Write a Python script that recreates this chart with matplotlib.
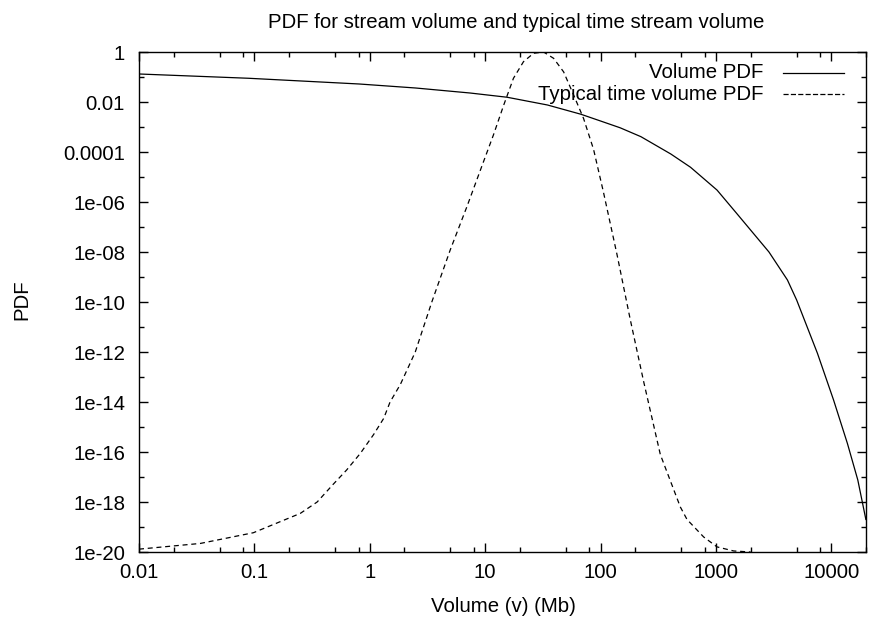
import matplotlib
matplotlib.use("Agg")
import matplotlib.pyplot as plt
from matplotlib.ticker import FixedLocator, FixedFormatter, NullFormatter

plt.rcParams['font.family'] = ['Liberation Sans', 'DejaVu Sans']
plt.rcParams['lines.scale_dashes'] = False

# ---- data ----
vol_x = [0.01, 0.089, 0.81, 2.5, 7.4, 15.5, 34.7, 67.6, 100, 148, 224, 407, 603,
         1023, 1514, 2884, 4169, 5012, 7586, 10470, 13800, 16980, 19950]
vol_y = [0.132, 0.089, 0.0525, 0.0363, 0.0229, 0.0155, 0.00759, 0.00324, 0.00174,
         9.3e-4, 4.1e-4, 8.3e-5, 2.45e-5, 3.0e-6, 3.5e-7, 1.0e-8, 7.6e-10, 1.2e-10,
         8.9e-13, 1.2e-14, 2.2e-16, 7.6e-18, 2.0e-19]

typ_x = [0.01, 0.034, 0.098, 0.25, 0.35, 0.48, 0.63, 0.83, 1.08, 1.32, 1.5, 1.84,
         2.17, 2.48, 3.45, 4.98, 6.95, 9.68, 11.8, 14.5, 17.6, 21.5, 26.3, 32.1,
         39.2, 47.9, 58.5, 71.3, 87.1, 106, 139, 181, 237, 330, 492, 562, 783,
         1023, 1426, 2000]
typ_y = [1.3e-20, 2.2e-20, 5.9e-20, 3.5e-19, 1.0e-18, 5.0e-18, 1.9e-17, 8.9e-17,
         5.0e-16, 2.2e-15, 1.0e-14, 5.0e-14, 2.6e-13, 1.0e-12, 1.0e-10, 1.2e-8,
         6.5e-7, 4.1e-5, 4.8e-4, 7.6e-3, 0.089, 0.41, 0.89, 1.0, 0.56, 0.16,
         0.019, 2.2e-3, 1.26e-4, 2.5e-6, 7.9e-9, 2.0e-11, 6.3e-14, 7.9e-17,
         6.3e-19, 2.0e-19, 4.0e-20, 1.6e-20, 1.1e-20, 1.0e-20]

x_ticks = [0.01, 0.1, 1, 10, 100, 1000, 10000]
x_tick_labels = ["0.01", "0.1", "1", "10", "100", "1000", "10000"]
y_ticks = [1, 1e-2, 1e-4, 1e-6, 1e-8, 1e-10, 1e-12, 1e-14, 1e-16, 1e-18, 1e-20]
y_tick_labels = ["1", "0.01", "0.0001", "1e-06", "1e-08", "1e-10", "1e-12",
                 "1e-14", "1e-16", "1e-18", "1e-20"]

labels = ["Volume PDF", "Typical time volume PDF"]
title = "PDF for stream volume and typical time stream volume"
xlabel = "Volume (v) (Mb)"
ylabel = "PDF"

# ---- figure ----
W, H = 870, 622
fig = plt.figure(figsize=(W / 100, H / 100), dpi=100)
L, R, T, B = 139, 866, 52, 552
ax = fig.add_axes([L / W, 1 - B / H, (R - L) / W, (B - T) / H])
ax.set_xscale('log')
ax.set_yscale('log')
ax.set_xlim(0.01, 20000)
ax.set_ylim(1e-20, 1)

ln1, = ax.plot(vol_x, vol_y, color='black', lw=0.9, solid_joinstyle='round')
ln2, = ax.plot(typ_x, typ_y, color='black', lw=0.9, linestyle=(0, (3.6, 2.7)))

fs = 14.7
# x ticks
ax.xaxis.set_major_locator(FixedLocator(x_ticks))
ax.xaxis.set_major_formatter(FixedFormatter(x_tick_labels))
xminor = [m * d for d in [0.01, 0.1, 1, 10, 100, 1000, 10000] for m in (2, 5, 8)]
ax.xaxis.set_minor_locator(FixedLocator([v for v in xminor if v <= 20000]))
ax.xaxis.set_minor_formatter(NullFormatter())
# y ticks
ax.yaxis.set_major_locator(FixedLocator(y_ticks))
ax.yaxis.set_major_formatter(FixedFormatter(y_tick_labels))
ax.yaxis.set_minor_locator(FixedLocator([10.0 ** (-k) for k in range(1, 20, 2)]))
ax.yaxis.set_minor_formatter(NullFormatter())

ax.tick_params(which='both', direction='in', top=True, right=True, width=1.0,
               labelsize=fs, colors='black')
ax.tick_params(which='major', length=6.5)
ax.tick_params(which='minor', length=3.5)
ax.tick_params(axis='x', which='major', pad=8)
ax.tick_params(axis='y', which='major', pad=10)
for s in ax.spines.values():
    s.set_linewidth(1.0)

# labels
fig.text(516 / W, 1 - 22 / H, title, ha='center', va='center', fontsize=fs)
fig.text(503 / W, 1 - 606 / H, xlabel, ha='center', va='center', fontsize=fs)
fig.text(22 / W, 1 - 300 / H, ylabel, ha='center', va='center', fontsize=fs,
         rotation=90)

# gnuplot-style key (right-aligned text, sample to the right)
key_rows = [0.9586, 0.9154]
for ln, lab, yk in zip([ln1, ln2], labels, key_rows):
    ax.text(0.8587, yk, lab, transform=ax.transAxes, ha='right', va='center',
            fontsize=fs)
    ax.plot([0.8863, 0.9703], [yk, yk], transform=ax.transAxes,
            color=ln.get_color(), lw=ln.get_linewidth(),
            linestyle=ln.get_linestyle(), clip_on=False)

fig.savefig("out.png", dpi=100)
